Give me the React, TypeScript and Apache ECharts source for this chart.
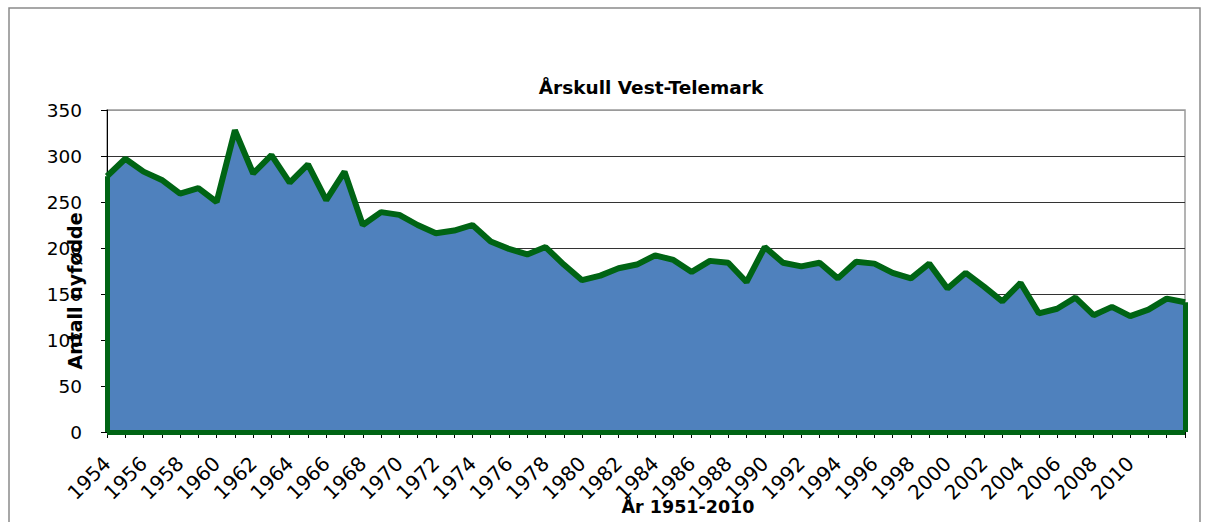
import React, { useEffect, useRef } from "react";
import * as echarts from "echarts";

const title = "Årskull Vest-Telemark";
const xAxisTitle = "År 1951-2010";
const yAxisTitle = "Antall nyfødde";

const years: string[] = [
  "1954", "1955", "1956", "1957", "1958", "1959", "1960", "1961", "1962", "1963",
  "1964", "1965", "1966", "1967", "1968", "1969", "1970", "1971", "1972", "1973",
  "1974", "1975", "1976", "1977", "1978", "1979", "1980", "1981", "1982", "1983",
  "1984", "1985", "1986", "1987", "1988", "1989", "1990", "1991", "1992", "1993",
  "1994", "1995", "1996", "1997", "1998", "1999", "2000", "2001", "2002", "2003",
  "2004", "2005", "2006", "2007", "2008", "2009", "2010", "2011", "2012", "2013",
];

const births: number[] = [
  278, 297, 283, 274, 259, 265, 250, 328, 281, 301,
  271, 291, 252, 283, 225, 239, 236, 225, 216, 219,
  225, 207, 199, 193, 201, 182, 165, 170, 178, 182,
  192, 187, 174, 186, 184, 163, 201, 184, 180, 184,
  167, 185, 183, 173, 167, 183, 156, 173, 158, 142,
  162, 129, 134, 146, 127, 136, 126, 133, 145, 141,
];

const lastLabelledYear = 2010;
const yTicks = { min: 0, max: 350, interval: 50 };

const GREEN = "#006414";
const FILL = "#4F81BD";
const FONT = "DejaVu Sans";

export default function App() {
  const ref = useRef<HTMLDivElement>(null);
  useEffect(() => {
    if (!ref.current) return;
    const chart = echarts.init(ref.current, undefined, { renderer: "svg" });
    const last = years.length - 1;
    chart.setOption({
      animation: false,
      backgroundColor: "#ffffff",
      title: {
        text: title,
        left: 646,
        top: 73,
        textAlign: "center",
        textStyle: { fontFamily: FONT, fontSize: 18.5, fontWeight: "bold", color: "#000" },
      },
      grid: { left: 107, right: 29, top: 110, bottom: 90, show: true, borderColor: "#9a9a9a", borderWidth: 1.5 },
      xAxis: {
        type: "category",
        data: years,
        boundaryGap: false,
        axisLine: { lineStyle: { color: "#000", width: 1 } },
        axisTick: { show: true, interval: 0, length: 6, lineStyle: { color: "#000" } },
        axisLabel: {
          interval: (index: number, value: string) =>
            index % 2 === 0 && Number(value) <= lastLabelledYear,
          rotate: 45,
          margin: 28,
          fontFamily: FONT,
          fontSize: 20,
          color: "#000",
        },
        splitLine: { show: false },
      },
      yAxis: {
        type: "value",
        min: yTicks.min,
        max: yTicks.max,
        interval: yTicks.interval,
        axisLine: { show: true, lineStyle: { color: "#000", width: 1 } },
        axisTick: { show: true, length: 6, lineStyle: { color: "#000" } },
        axisLabel: { margin: 25, fontFamily: FONT, fontSize: 18.5, color: "#000" },
        splitLine: {
          show: true,
          lineStyle: {
            color: ["#333", "#333", "#333", "#333", "#333", "#333", "#333", "#9a9a9a"],
            width: 1,
          },
        },
      },
      graphic: [
        {
          type: "rect",
          shape: { x: 9, y: 8, width: 1191, height: 540 },
          style: { fill: "none", stroke: "#8a8a8a", lineWidth: 1.5 },
          z: -1,
        },
        {
          type: "text",
          x: 688,
          y: 507,
          style: {
            text: xAxisTitle,
            fontFamily: FONT,
            fontSize: 17.5,
            fontWeight: "bold",
            fill: "#000",
            align: "center",
            verticalAlign: "middle",
          },
          z: 10,
        },
        {
          type: "text",
          x: 75,
          y: 291,
          rotation: Math.PI / 2,
          style: {
            text: yAxisTitle,
            fontFamily: FONT,
            fontSize: 19,
            fontWeight: "bold",
            fill: "#000",
            align: "center",
            verticalAlign: "middle",
          },
          z: 10,
        },
      ],
      series: [
        {
          type: "line",
          data: births,
          symbol: "none",
          lineStyle: { color: GREEN, width: 6 },
          areaStyle: { color: FILL, opacity: 1 },
          z: 3,
          markLine: {
            silent: true,
            symbol: "none",
            label: { show: false },
            lineStyle: { color: GREEN, width: 5, type: "solid" },
            data: [
              [{ coord: [0, 0] }, { coord: [0, births[0]] }],
              [{ coord: [last, 0] }, { coord: [last, births[last]] }],
              [{ coord: [0, 0] }, { coord: [last, 0] }],
            ],
          },
        },
      ],
    });
    return () => chart.dispose();
  }, []);
  return (
    <div
      ref={ref}
      style={{ position: "absolute", left: 0, top: 0, width: 1214, height: 522 }}
    />
  );
}
